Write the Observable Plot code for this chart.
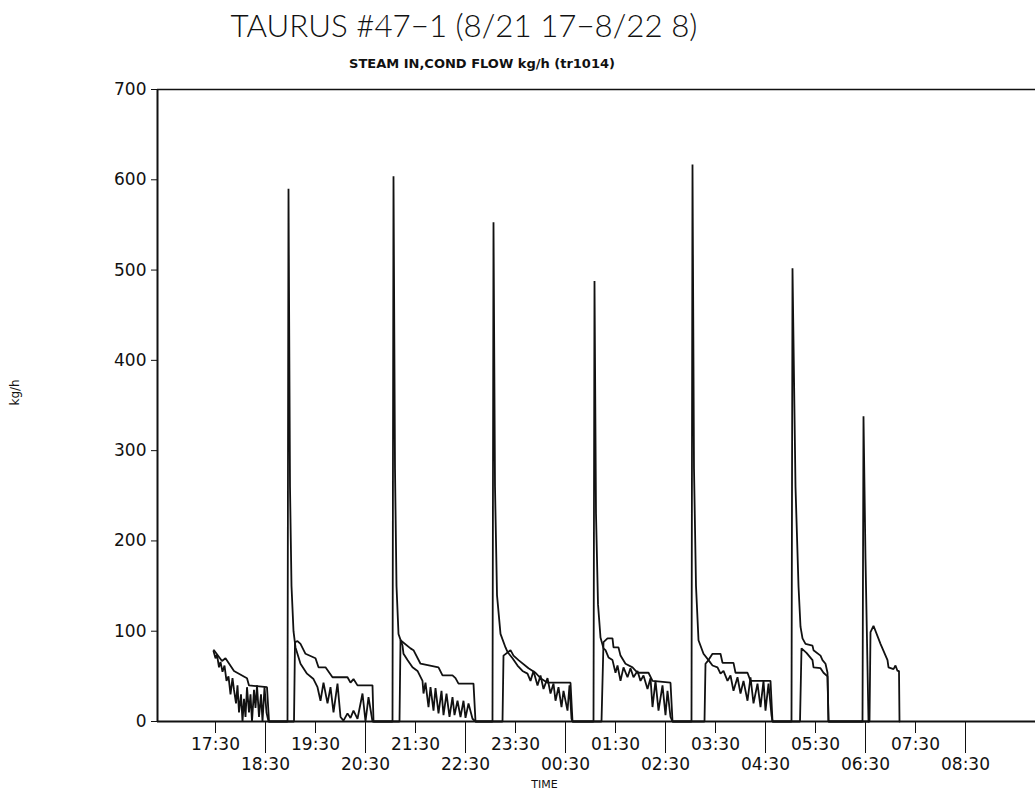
<!DOCTYPE html>
<html>
<head>
<meta charset="utf-8">
<script src="https://cdn.jsdelivr.net/npm/d3@7"></script>
<script src="https://cdn.jsdelivr.net/npm/@observablehq/plot@0.6"></script>
<style>
  html, body { margin: 0; padding: 0; background: #fff; }
  #page { position: relative; width: 1035px; height: 793px; overflow: hidden; font-family: "DejaVu Sans", sans-serif; }
  #header { position: relative; height: 80px; }
  #title { position: absolute; left: 464px; top: 6px; transform: translateX(-50%); white-space: nowrap;
           font-family: "Lato", "DejaVu Sans", sans-serif; font-weight: 300; font-size: 31.3px; color: #111; }
  #subtitle { position: absolute; left: 482px; top: 56px; transform: translateX(-50%); white-space: nowrap;
              font-family: "DejaVu Sans", sans-serif; font-weight: bold; font-size: 13px; color: #111; }
</style>
</head>
<body>
<div id="page">
  <div id="header">
    <div id="title">TAURUS #47−1 (8/21 17−8/22 8)</div>
    <div id="subtitle">STEAM IN,COND FLOW kg/h (tr1014)</div>
  </div>
  <div id="chart"></div>
</div>
<script>
// Time in decimal hours from 8/21 00:00 (24.5 = 00:30 on 8/22)
const xDomain = [16.34, 33.9];
const yTicks = [0, 100, 200, 300, 400, 500, 600, 700];
const xTickHours = [17.5, 18.5, 19.5, 20.5, 21.5, 22.5, 23.5, 24.5, 25.5, 26.5, 27.5, 28.5, 29.5, 30.5, 31.5, 32.5];
const xTickLabels = ["17:30", "18:30", "19:30", "20:30", "21:30", "22:30", "23:30", "00:30",
                     "01:30", "02:30", "03:30", "04:30", "05:30", "06:30", "07:30", "08:30"];

// Spiking / noisy flow trace [hour, kg/h]
const noisyTrace = [
  [17.46,78],[17.50,70],[17.53,74],[17.57,60],[17.60,66],[17.64,55],[17.68,62],[17.72,45],[17.76,50],[17.80,30],
  [17.84,48],[17.87,35],[17.91,20],[17.94,40],[17.97,10],[18.01,30],[18.04,0],[18.07,25],[18.10,5],[18.13,38],
  [18.17,10],[18.20,30],[18.23,0],[18.27,35],[18.30,15],[18.33,40],[18.37,5],[18.41,30],[18.44,0],[18.48,38],
  [18.52,10],[18.56,0],
  [18.94,0],[18.96,590],[18.99,260],[19.02,150],[19.06,100],[19.10,82],[19.20,64],[19.33,53],[19.46,47],[19.54,38],
  [19.60,23],[19.66,43],[19.74,20],[19.80,38],[19.86,10],[19.94,42],[20.00,5],[20.06,1],[20.14,9],[20.20,4],
  [20.26,12],[20.34,3],[20.44,31],[20.50,0],[20.56,27],[20.64,0],
  [21.04,0],[21.06,604],[21.09,280],[21.12,150],[21.16,97],[21.24,84],[21.26,75],[21.34,68],[21.44,60],[21.54,56],
  [21.64,45],[21.66,31],[21.70,43],[21.76,16],[21.80,38],[21.86,12],[21.90,37],[21.96,9],[22.02,34],[22.06,7],
  [22.12,31],[22.18,5],[22.24,27],[22.28,7],[22.34,23],[22.40,5],[22.46,23],[22.50,4],[22.56,20],[22.64,3],[22.70,0],
  [23.04,0],[23.06,553],[23.09,260],[23.13,140],[23.20,97],[23.30,82],[23.34,77],[23.44,70],[23.54,62],[23.64,56],
  [23.74,53],[23.80,45],[23.86,56],[23.94,40],[24.00,51],[24.06,36],[24.14,48],[24.20,31],[24.26,42],[24.30,23],
  [24.36,38],[24.42,16],[24.46,34],[24.54,12],[24.58,40],[24.62,3],[24.64,0],
  [25.06,0],[25.08,488],[25.11,230],[25.15,130],[25.20,93],[25.26,81],[25.30,79],[25.36,71],[25.44,68],[25.50,54],
  [25.54,62],[25.60,45],[25.66,60],[25.74,49],[25.80,59],[25.86,49],[25.94,56],[26.00,45],[26.06,51],[26.14,36],
  [26.20,48],[26.24,16],[26.30,45],[26.36,12],[26.44,40],[26.50,7],[26.54,34],[26.60,5],[26.64,0],
  [27.02,0],[27.04,617],[27.07,280],[27.11,150],[27.16,90],[27.26,75],[27.36,68],[27.44,62],[27.54,60],[27.60,53],
  [27.66,56],[27.74,45],[27.80,51],[27.86,34],[27.94,49],[28.00,31],[28.06,45],[28.14,23],[28.20,49],[28.26,20],
  [28.34,42],[28.40,16],[28.46,45],[28.50,12],[28.56,42],[28.62,7],[28.64,0],
  [29.02,0],[29.04,502],[29.10,260],[29.16,150],[29.20,105],[29.24,92],[29.30,86],[29.44,84],[29.46,79],[29.60,73],
  [29.64,68],[29.70,64],[29.74,54],[29.76,0],
  [30.44,0],[30.46,338],[30.50,180],[30.54,60],[30.56,0]
];

// Stepped (recorded in steps) flow trace [hour, kg/h]
const steppedTrace = [
  [17.47,79],[17.63,67],[17.70,70],[17.87,56],[18.13,48],[18.17,40],[18.53,38],[18.57,0],
  [19.07,0],[19.09,88],[19.14,89],[19.20,86],[19.30,75],[19.50,70],[19.56,60],[19.70,60],[19.84,49],[20.14,49],
  [20.20,43],[20.26,47],[20.34,40],[20.64,40],[20.66,0],
  [21.18,0],[21.20,90],[21.40,81],[21.46,79],[21.60,64],[21.96,60],[22.04,51],[22.24,51],[22.30,48],[22.36,42],
  [22.66,42],[22.70,0],
  [23.24,0],[23.26,73],[23.40,79],[23.46,73],[23.56,68],[23.76,59],[23.90,54],[24.00,48],[24.14,43],[24.60,43],[24.64,0],
  [25.22,0],[25.26,88],[25.34,92],[25.44,92],[25.46,82],[25.56,82],[25.60,73],[25.70,64],[25.84,60],[25.94,54],
  [26.16,54],[26.24,45],[26.60,43],[26.64,0],
  [27.28,0],[27.30,64],[27.36,68],[27.44,75],[27.60,75],[27.64,65],[27.86,65],[27.90,54],[28.14,54],[28.20,45],
  [28.60,45],[28.64,0],
  [29.19,0],[29.22,81],[29.32,76],[29.44,68],[29.46,60],[29.60,59],[29.66,54],[29.74,50],[29.76,0],
  [30.58,0],[30.60,99],[30.66,106],[30.80,86],[30.94,68],[30.96,60],[31.06,58],[31.10,62],[31.14,56],[31.17,56],[31.18,0]
];

const labelOf = new Map(xTickHours.map((h, i) => [h, xTickLabels[i]]));
const upperTicks = xTickHours.filter((h, i) => i % 2 === 0);
const lowerTicks = xTickHours.filter((h, i) => i % 2 === 1);
const fmt = d => labelOf.get(d);

const ink = "#111";
const chart = Plot.plot({
  width: 1035,
  height: 713,
  marginTop: 9,
  marginLeft: 157,
  marginRight: 0,
  marginBottom: 72,
  style: { fontFamily: "DejaVu Sans, sans-serif", color: ink, background: "white", overflow: "visible" },
  x: { domain: xDomain, axis: null },
  y: { domain: [0, 700], axis: null },
  marks: [
    Plot.axisY({ ticks: yTicks, tickSize: 6, tickPadding: 5, fontSize: 17, label: null, stroke: ink }),
    Plot.axisX({ ticks: upperTicks, tickFormat: fmt, tickSize: 12, tickPadding: 4, fontSize: 17, label: null, stroke: ink }),
    Plot.axisX({ ticks: lowerTicks, tickFormat: fmt, tickSize: 32, tickPadding: 4, fontSize: 17, label: null, stroke: ink }),
    Plot.ruleX([xDomain[0]], { stroke: ink, strokeWidth: 2 }),
    Plot.ruleY([0], { stroke: ink, strokeWidth: 2 }),
    Plot.ruleY([700], { stroke: ink, strokeWidth: 1.5 }),
    Plot.line(steppedTrace, { x: d => d[0], y: d => d[1], stroke: ink, strokeWidth: 1.8, strokeLinejoin: "miter" }),
    Plot.line(noisyTrace, { x: d => d[0], y: d => d[1], stroke: ink, strokeWidth: 1.8, strokeLinejoin: "miter" }),
    Plot.text(["kg/h"], { frameAnchor: "left", dx: -142, rotate: -90, fontSize: 12, fill: ink }),
    Plot.text(["TIME"], { frameAnchor: "bottom", dx: -52, dy: 66, fontSize: 11, fill: ink })
  ]
});
document.getElementById("chart").appendChild(chart);
</script>
</body>
</html>
